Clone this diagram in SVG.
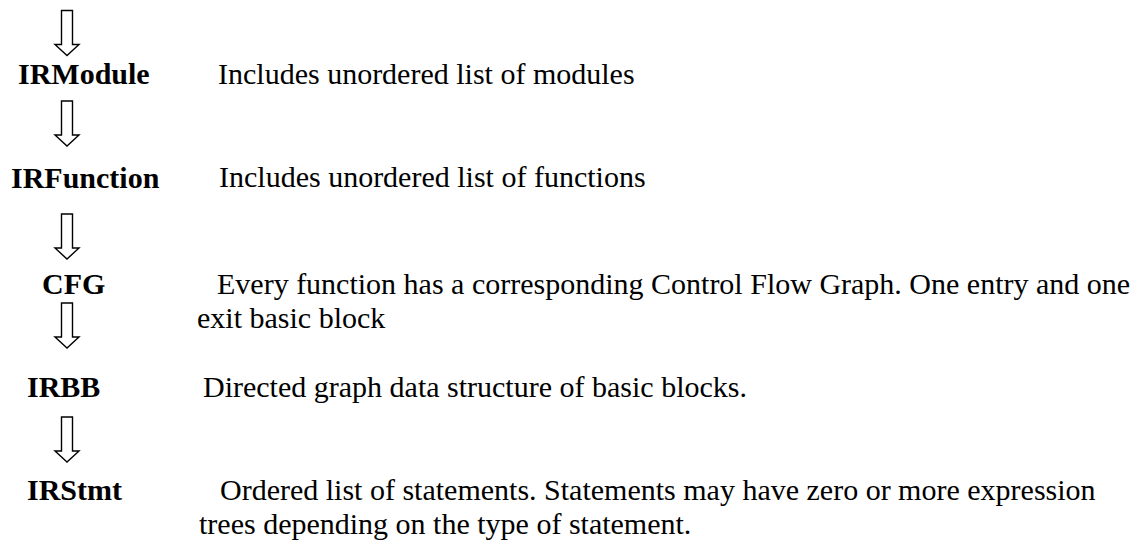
<svg xmlns="http://www.w3.org/2000/svg" xmlns:xlink="http://www.w3.org/1999/xlink" width="1138" height="544" viewBox="0 0 1138 544">
  <style>
    text { font-family: "Liberation Serif", "Times New Roman", serif; font-size: 30px; fill: #000; }
    .name { font-weight: bold; }
    .block-arrow { fill: #fff; stroke: #000; stroke-width: 1.4; stroke-linejoin: miter; }
  </style>
  <defs>
    <!-- hollow downward block arrow, drawn from its top edge -->
    <path id="down" class="block-arrow" d="M61.5,0 H72.5 V34 H79 L67,45 L55,34 H61.5 Z"/>
  </defs>
  <rect width="1138" height="544" fill="#fff"/>

  <g id="connectors">
    <use xlink:href="#down" href="#down" y="10.5"/>
    <use xlink:href="#down" href="#down" y="101"/>
    <use xlink:href="#down" href="#down" y="214"/>
    <use xlink:href="#down" href="#down" y="303"/>
    <use xlink:href="#down" href="#down" y="417"/>
  </g>

  <g id="node-irmodule">
    <text class="name" x="18" y="84">IRModule</text>
    <text x="218" y="84">Includes unordered list of modules</text>
  </g>

  <g id="node-irfunction">
    <text class="name" x="11" y="188">IRFunction</text>
    <text x="219" y="187">Includes unordered list of functions</text>
  </g>

  <g id="node-cfg">
    <text class="name" x="42" y="294">CFG</text>
    <text x="217" y="294">Every function has a corresponding Control Flow Graph. One entry and one</text>
    <text x="197" y="328">exit basic block</text>
  </g>

  <g id="node-irbb">
    <text class="name" x="27" y="397">IRBB</text>
    <text x="203" y="397">Directed graph data structure of basic blocks.</text>
  </g>

  <g id="node-irstmt">
    <text class="name" x="27" y="500">IRStmt</text>
    <text x="220" y="500">Ordered list of statements. Statements may have zero or more expression</text>
    <text x="199" y="534">trees depending on the type of statement.</text>
  </g>
</svg>
